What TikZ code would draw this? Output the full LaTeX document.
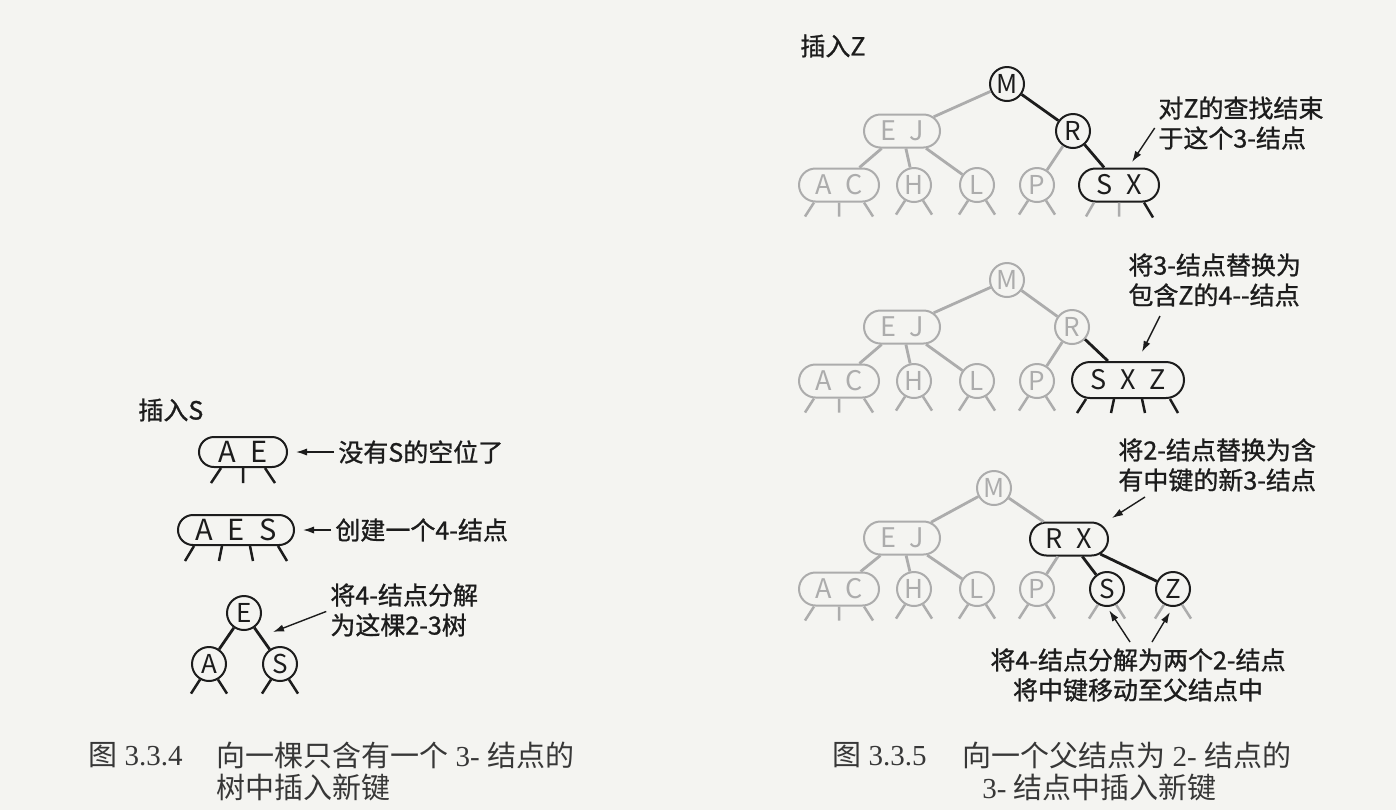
\documentclass[tikz,border=0pt]{standalone}
\usepackage{fontspec}
\setmainfont{Liberation Serif}
\newfontfamily\cjk{Noto Sans CJK SC}
\newfontfamily\cjkmid[FakeBold=1]{Noto Sans CJK SC}
\usetikzlibrary{arrows.meta, shapes.misc, calc}

\definecolor{paper}{RGB}{244,244,241}
\definecolor{ink}{RGB}{28,28,28}
\definecolor{faint}{RGB}{172,172,172}
\definecolor{capink}{RGB}{55,55,55}

\newcommand{\keyfont}{\cjk\fontsize{13}{13}\selectfont}
\newcommand{\pairfont}{\cjk\fontsize{13.5}{13.5}\selectfont}
\newcommand{\bigkeyfont}{\cjk\fontsize{14.5}{14.5}\selectfont}
\newcommand{\notefont}{\cjkmid\fontsize{12.5}{15}\selectfont}
\newcommand{\capfont}{\fontsize{14.5}{17}\selectfont}

\tikzset{
  twonode/.style={circle, draw=#1, text=#1, line width=1pt,
    inner sep=0pt, minimum size=17pt, font=\keyfont},
  twonode/.default=ink,
  multinode/.style={rounded rectangle, draw=#1, text=#1, line width=1pt,
    inner sep=0pt, minimum height=16.5pt, font=\pairfont},
  multinode/.default=ink,
  link/.style={line width=1.4pt, draw=#1},
  link/.default=ink,
  leg/.style={line width=1.25pt, draw=#1},
  leg/.default=ink,
  note/.style={font=\notefont, text=ink, inner sep=0pt, align=left},
  pointer/.style={-{Latex[length=5.5pt,width=3.6pt]}, line width=0.7pt, draw=ink},
  caption/.style={font=\capfont, text=capink, inner sep=0pt, anchor=west},
}

\begin{document}
\begin{tikzpicture}[x=0.5pt, y=-0.5pt]
\fill[paper] (0,0) rectangle (1396,810);
\useasboundingbox (0,0) rectangle (1396,810);

% --- left: insert S into a tree that is one 3-node
\node[note, anchor=west] (insS) at (138,410) {插入S};

\node[multinode, minimum width=44pt, minimum height=15pt, font=\bigkeyfont] (ae) at (243,452) {A\enspace E};
\draw[leg] ($(ae.south)+(-22,0)$) -- ++(-10,15)
           (ae.south) -- ++(0,15)
           ($(ae.south)+(22,0)$) -- ++(10,15);
\node[note, anchor=west] (n1) at (338,452) {没有S的空位了};
\draw[pointer, shorten <=2pt, shorten >=4pt] (n1.west) -- (ae.east);

\node[multinode, minimum width=58pt, minimum height=15pt, font=\bigkeyfont] (aes) at (236,530) {A\enspace E\enspace S};
\draw[leg] ($(aes.south)+(-42,0)$) -- ++(-9,15)
           ($(aes.south)+(-14,0)$) -- ++(-3,15)
           ($(aes.south)+(14,0)$) -- ++(3,15)
           ($(aes.south)+(42,0)$) -- ++(9,15);
\node[note, anchor=west] (n2) at (335,530) {创建一个4-结点};
\draw[pointer, shorten <=2pt, shorten >=4pt] (n2.west) -- (aes.east);

\node[twonode] (e) at (244,613) {E};
\node[twonode] (a) at (209,664) {A};
\node[twonode] (s) at (280,664) {S};
\draw[link] (e) -- (a) (e) -- (s);
\foreach \k in {a,s}
  \draw[leg] (\k.240) -- ++(-9,14) (\k.300) -- ++(9,14);
\node[note, anchor=west] (n3) at (330,610) {将4-结点分解\\为这棵2-3树};
\coordinate (splitend) at (273,632);
\draw[pointer, shorten <=2pt] (n3.west) -- (splitend);

% --- right: insert Z, three stages
\node[note, anchor=west] (insZ) at (800,46) {插入Z};

% grey left subtree, same in every stage
\foreach \t/\top/\low in {1/131/185, 2/327/381, 3/538/589} {
  \node[multinode=faint, minimum width=38pt] (ej\t) at (902,\top) {E\enspace J};
  \node[multinode=faint, minimum width=40pt] (ac\t) at (839,\low) {A\enspace C};
  \node[twonode=faint] (h\t) at (914,\low) {H};
  \node[twonode=faint] (l\t) at (977,\low) {L};
  \node[twonode=faint] (p\t) at (1037,\low) {P};
  \draw[link=faint] (ej\t) -- (ac\t) (ej\t) -- (h\t) (ej\t) -- (l\t);
  \draw[leg=faint] ($(ac\t.south)+(-25,0)$) -- ++(-9,14)
                   (ac\t.south) -- ++(0,14)
                   ($(ac\t.south)+(25,0)$) -- ++(9,14);
  \foreach \k in {h\t,l\t,p\t}
    \draw[leg=faint] (\k.240) -- ++(-9,14) (\k.300) -- ++(9,14);
}

% stage 1
\node[twonode] (m1) at (1007,84) {M};
\node[twonode] (r1) at (1073,131) {R};
\node[multinode, minimum width=40pt] (sx1) at (1119,185) {S\enspace X};
\draw[link=faint] (m1) -- (ej1) (r1) -- (p1);
\draw[link] (m1) -- (r1) (r1) -- (sx1);
\draw[leg=faint] ($(sx1.south)+(-25,0)$) -- ++(-8,14) (sx1.south) -- ++(0,14);
\draw[leg] ($(sx1.south)+(25,0)$) -- ++(9,15);
\node[note, anchor=west] (t1) at (1158,123) {对Z的查找结束\\于这个3-结点};
\coordinate (t1hit) at (1132,162);
\draw[pointer, shorten <=3pt] (t1.west) -- (t1hit);

% stage 2
\node[twonode=faint] (m2) at (1007,280) {M};
\node[twonode=faint] (r2) at (1072,327) {R};
\node[multinode, minimum width=56pt, minimum height=18pt] (sxz2) at (1128,380) {S\enspace X\enspace Z};
\draw[link=faint] (m2) -- (ej2) (m2) -- (r2) (r2) -- (p2);
\draw[link] (r2) -- (sxz2);
\draw[leg] ($(sxz2.south)+(-42,0)$) -- ++(-9,14)
           ($(sxz2.south)+(-14,0)$) -- ++(-3,14)
           ($(sxz2.south)+(14,0)$) -- ++(3,14)
           ($(sxz2.south)+(42,0)$) -- ++(8,14);
\node[note, anchor=west] (t2) at (1128,280) {将3-结点替换为\\包含Z的4-{}-结点};
\coordinate (t2tail) at (1160,316);
\coordinate (t2hit) at (1142,352);
\draw[pointer] (t2tail) -- (t2hit);

% stage 3
\node[twonode=faint] (m3) at (994,488) {M};
\node[multinode, minimum width=39pt] (rx3) at (1069,539) {R\enspace X};
\node[twonode] (s3) at (1107,589) {S};
\node[twonode] (z3) at (1173,589) {Z};
\draw[link=faint] (m3) -- (ej3) (m3) -- (rx3) (rx3) -- (p3);
\draw[link] (rx3) -- (s3) (rx3) -- (z3);
\foreach \k in {s3,z3}
  \draw[leg=faint] (\k.240) -- ++(-9,14) (\k.300) -- ++(9,14);
\node[note, anchor=west] (t3) at (1118,465) {将2-结点替换为含\\有中键的新3-结点};
\coordinate (t3tail) at (1145,497);
\coordinate (t3hit) at (1112,518);
\draw[pointer] (t3tail) -- (t3hit);
\node[note, align=center] (t4) at (1138,675) {将4-结点分解为两个2-结点\\将中键移动至父结点中};
\coordinate (t4s) at (1130,642);
\coordinate (t4z) at (1152,642);
\draw[pointer, shorten >=2pt] (t4s) -- (s3.south);
\draw[pointer, shorten >=3pt] (t4z) -- (z3.south);

% captions
\node[caption] (fig1) at (88,755) {{\cjk 图} 3.3.4};
\node[caption] (cap1a) at (216,755) {{\cjk 向一棵只含有一个} 3- {\cjk 结点的}};
\node[caption] (cap1b) at (216,787) {{\cjk 树中插入新键}};
\node[caption] (fig2) at (832,755) {{\cjk 图} 3.3.5};
\node[caption] (cap2a) at (962,755) {{\cjk 向一个父结点为} 2- {\cjk 结点的}};
\node[caption] (cap2b) at (982,787) {3- {\cjk 结点中插入新键}};
\end{tikzpicture}
\end{document}
